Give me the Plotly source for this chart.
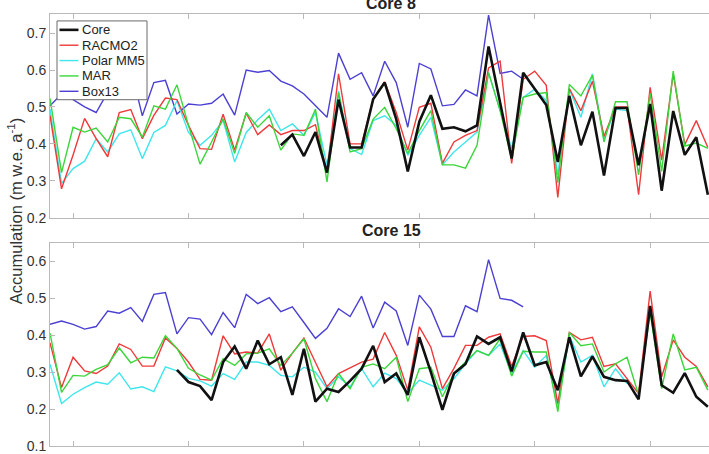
import plotly.graph_objects as go

years = list(range(1958, 2016))

N = None
# ---------------- Core 8 ----------------
core8 = [N, N, N, N, N, N, N, N, N, N,
         N, N, N, N, N, N, N, N, N, N,
         0.396, 0.425, 0.367, 0.432, 0.322, 0.52, 0.39, 0.39, 0.521, 0.566,
         0.467, 0.325, 0.46, 0.532, 0.441, 0.445, 0.434, 0.45, 0.664, 0.512,
         0.36, 0.593, 0.55, 0.505, 0.351, 0.53, 0.396, 0.487, 0.314, 0.497,
         0.497, 0.342, 0.508, 0.273, 0.489, 0.37, 0.418, 0.262]
racmo8 = [0.477, 0.278, 0.37, 0.469, 0.414, 0.365, 0.485, 0.493, 0.414, 0.477,
          0.524, 0.52, 0.45, 0.387, 0.385, 0.48, 0.383, 0.483, 0.425, 0.451,
          0.425, 0.436, 0.436, 0.452, 0.323, 0.59, 0.4, 0.4, 0.521, 0.568,
          0.485, 0.383, 0.499, 0.51, 0.347, 0.405, 0.423, 0.436, 0.606, 0.624,
          0.347, 0.575, 0.597, 0.559, 0.255, 0.55, 0.49, 0.57, 0.42, 0.5,
          0.5, 0.262, 0.553, 0.356, 0.59, 0.398, 0.463, 0.39]
polar8 = [0.494, 0.293, 0.333, 0.353, 0.414, 0.378, 0.427, 0.438, 0.36, 0.431,
          0.45, 0.517, 0.431, 0.396, 0.423, 0.463, 0.351, 0.431, 0.465, 0.494,
          0.436, 0.454, 0.423, 0.485, 0.342, 0.543, 0.387, 0.371, 0.463, 0.476,
          0.45, 0.369, 0.423, 0.472, 0.343, 0.378, 0.405, 0.432, 0.593, 0.49,
          0.387, 0.526, 0.548, 0.517, 0.316, 0.548, 0.472, 0.59, 0.414, 0.494,
          0.49, N, N, N, N, N, N, N]
mar8 = [0.523, 0.322, 0.445, 0.432, 0.443, 0.405, 0.472, 0.468, 0.418, 0.503,
        0.494, 0.56, 0.45, 0.345, 0.405, 0.468, 0.374, 0.485, 0.445, 0.476,
        0.383, 0.427, 0.423, 0.494, 0.297, 0.539, 0.378, 0.387, 0.467, 0.499,
        0.441, 0.374, 0.436, 0.49, 0.343, 0.343, 0.334, 0.396, 0.593, 0.49,
        0.36, 0.526, 0.535, 0.539, 0.295, 0.561, 0.53, 0.586, 0.405, 0.514,
        0.514, 0.316, 0.537, 0.325, 0.597, 0.394, 0.402, 0.388]
box8 = [0.503, 0.535, 0.52, 0.5, 0.485, 0.54, 0.59, 0.605, 0.476, 0.566,
        0.572, 0.481, 0.508, 0.505, 0.51, 0.535, 0.478, 0.6, 0.594, 0.599,
        0.57, 0.557, 0.535, 0.503, 0.472, 0.646, 0.575, 0.593, 0.53, 0.624,
        0.566, 0.445, 0.618, 0.603, 0.503, 0.507, 0.546, 0.53, 0.749, 0.591,
        0.597, 0.575, N, N, N, N, N, N, N, N,
        N, N, N, N, N, N, N, N]

# ---------------- Core 15 ----------------
core15 = [N, N, N, N, N, N, N, N, N, N,
          N, 0.306, 0.273, 0.262, 0.224, 0.327, 0.369, 0.309, 0.385, 0.321,
          0.34, 0.238, 0.363, 0.22, 0.255, 0.246, 0.276, 0.309, 0.371, 0.273,
          0.296, 0.238, 0.394, 0.3, 0.198, 0.296, 0.322, 0.396, 0.376, 0.394,
          0.302, 0.407, 0.318, 0.327, 0.251, 0.394, 0.288, 0.342, 0.287, 0.278,
          0.276, 0.226, 0.479, 0.264, 0.244, 0.297, 0.233, 0.206]
racmo15 = [0.379, 0.258, 0.34, 0.303, 0.296, 0.316, 0.376, 0.361, 0.316, 0.316,
           0.392, 0.364, 0.327, 0.28, 0.278, 0.398, 0.349, 0.354, 0.351, 0.403,
           0.305, 0.351, 0.392, 0.327, 0.26, 0.296, 0.312, 0.327, 0.335, 0.407,
           0.345, 0.251, 0.422, 0.367, 0.255, 0.31, 0.372, 0.372, 0.394, 0.403,
           0.316, 0.396, 0.398, 0.385, 0.215, 0.407, 0.387, 0.394, 0.315, 0.322,
           0.282, 0.242, 0.519, 0.287, 0.387, 0.34, 0.315, 0.26]
polar15 = [0.321, 0.215, 0.24, 0.258, 0.273, 0.267, 0.298, 0.254, 0.26, 0.247,
           0.314, 0.303, 0.283, 0.276, 0.262, 0.296, 0.28, 0.327, 0.327, 0.318,
           0.291, 0.287, 0.313, 0.3, 0.255, 0.287, 0.26, 0.309, 0.26, 0.297,
           0.282, 0.242, 0.278, 0.264, 0.251, 0.282, 0.322, 0.358, 0.345, 0.376,
           0.296, 0.358, 0.313, 0.345, 0.206, 0.398, 0.327, 0.345, 0.26, 0.309,
           0.269, N, N, N, N, N, N, N]
mar15 = [0.405, 0.245, 0.291, 0.289, 0.307, 0.32, 0.365, 0.325, 0.34, 0.338,
         0.398, 0.364, 0.31, 0.292, 0.278, 0.336, 0.318, 0.349, 0.351, 0.363,
         0.318, 0.351, 0.39, 0.282, 0.22, 0.296, 0.255, 0.313, 0.322, 0.309,
         0.34, 0.22, 0.309, 0.313, 0.233, 0.296, 0.327, 0.358, 0.345, 0.39,
         0.289, 0.356, 0.354, 0.354, 0.193, 0.407, 0.371, 0.376, 0.3, 0.322,
         0.34, 0.238, 0.461, 0.255, 0.403, 0.306, 0.313, 0.251]
box15 = [0.429, 0.438, 0.429, 0.416, 0.423, 0.465, 0.459, 0.474, 0.437, 0.51,
         0.515, 0.403, 0.447, 0.443, 0.401, 0.461, 0.42, 0.51, 0.485, 0.501,
         0.463, 0.476, 0.434, 0.391, 0.418, 0.471, 0.45, 0.505, 0.419, 0.489,
         0.465, 0.372, 0.508, 0.47, 0.396, 0.396, 0.479, 0.463, 0.604, 0.499,
         0.494, 0.476, N, N, N, N, N, N, N, N,
         N, N, N, N, N, N, N, N]

series_names = ["Core", "RACMO2", "Polar MM5", "MAR", "Box13"]
titles = ["Core 8", "Core 15"]
ytick_top = [0.2, 0.3, 0.4, 0.5, 0.6, 0.7]
ytick_bot = [0.1, 0.2, 0.3, 0.4, 0.5, 0.6]
xtick_years = [1960, 1970, 1980, 1990, 2000, 2010]

colors = {"Core": "#111111", "RACMO2": "#ee3a3a", "Polar MM5": "#3fe6ec",
          "MAR": "#3ad63a", "Box13": "#4b40d2"}
widths = {"Core": 2.6, "RACMO2": 1.4, "Polar MM5": 1.4, "MAR": 1.4, "Box13": 1.4}

W, H = 709, 454
ML, MR, MT, MB = 50, 0, 14, 4
PW, PH = W - ML - MR, H - MT - MB


def px(x):
    return (x - ML) / PW


def py(y):
    return (H - MB - y) / PH


fig = go.Figure()

panels = [
    ("x", "y", {"Core": core8, "RACMO2": racmo8, "Polar MM5": polar8, "MAR": mar8, "Box13": box8}),
    ("x2", "y2", {"Core": core15, "RACMO2": racmo15, "Polar MM5": polar15, "MAR": mar15, "Box13": box15}),
]
draw_order = ["Box13", "Polar MM5", "RACMO2", "MAR", "Core"]
for xa, ya, data in panels:
    for name in draw_order:
        fig.add_trace(go.Scatter(x=years, y=data[name], mode="lines", name=name,
                                 xaxis=xa, yaxis=ya, showlegend=False,
                                 line=dict(color=colors[name], width=widths[name]),
                                 connectgaps=False))

axis_col = "#b9b9b9"
tick_font = dict(family="Arial, Liberation Sans, sans-serif", size=14, color="#333333")
common_x = dict(range=[1958, 2015.1], tickvals=xtick_years, showticklabels=False,
                ticks="inside", ticklen=5, tickcolor=axis_col, showline=True,
                linecolor=axis_col, linewidth=1, mirror="ticks", showgrid=False,
                zeroline=False)
common_y = dict(ticks="inside", ticklen=5, tickcolor=axis_col, showline=True,
                linecolor=axis_col, linewidth=1, mirror=False, showgrid=False,
                zeroline=False, tickfont=tick_font, tickformat=".1f")

top_dom = [py(219.5), 1.0]
bot_dom = [0.0, py(244.7)]

fig.update_layout(
    width=W, height=H, autosize=False,
    margin=dict(l=ML, r=MR, t=MT, b=MB, pad=0),
    paper_bgcolor="white", plot_bgcolor="white",
    xaxis=dict(domain=[0, 1], anchor="y", **common_x),
    yaxis=dict(domain=top_dom, anchor="x", range=[0.2, 0.752], tickvals=ytick_top, **common_y),
    xaxis2=dict(domain=[0, 1], anchor="y2", **common_x),
    yaxis2=dict(domain=bot_dom, anchor="x2", range=[0.1, 0.65], tickvals=ytick_bot, **common_y),
    showlegend=False,
)

title_font = dict(family="Arial, Liberation Sans, sans-serif", size=16, color="#222222")
fig.add_annotation(text="<b>" + titles[0] + "</b>", xref="paper", yref="paper",
                   x=px(391), y=py(3), xanchor="center", yanchor="middle",
                   showarrow=False, font=title_font)
fig.add_annotation(text="<b>" + titles[1] + "</b>", xref="paper", yref="paper",
                   x=px(391), y=py(233), xanchor="center", yanchor="middle",
                   showarrow=False, font=title_font)

fig.add_annotation(text="Accumulation (m w.e. a<sup>-1</sup>)", xref="paper", yref="paper",
                   x=px(15), y=py(213), xanchor="center", yanchor="middle",
                   textangle=-90, showarrow=False,
                   font=dict(family="Arial, Liberation Sans, sans-serif", size=16.5, color="#333333"))

# legend box (drawn manually to match the compact MATLAB legend)
fig.add_shape(type="rect", xref="paper", yref="paper",
              x0=px(57), x1=px(147), y0=py(100.5), y1=py(21),
              line=dict(color="#6a6a6a", width=1), fillcolor="white", layer="above")
leg_y = [30, 45.5, 61, 76.5, 92]
for name, yy in zip(series_names, leg_y):
    fig.add_shape(type="line", xref="paper", yref="paper",
                  x0=px(59.5), x1=px(78.5), y0=py(yy), y1=py(yy),
                  line=dict(color=colors[name], width=widths[name]), layer="above")
    fig.add_annotation(text=name, xref="paper", yref="paper", x=px(79.5), y=py(yy),
                       xanchor="left", yanchor="middle", showarrow=False,
                       font=dict(family="Arial, Liberation Sans, sans-serif", size=13, color="#222222"))

fig.write_html("out.html")
